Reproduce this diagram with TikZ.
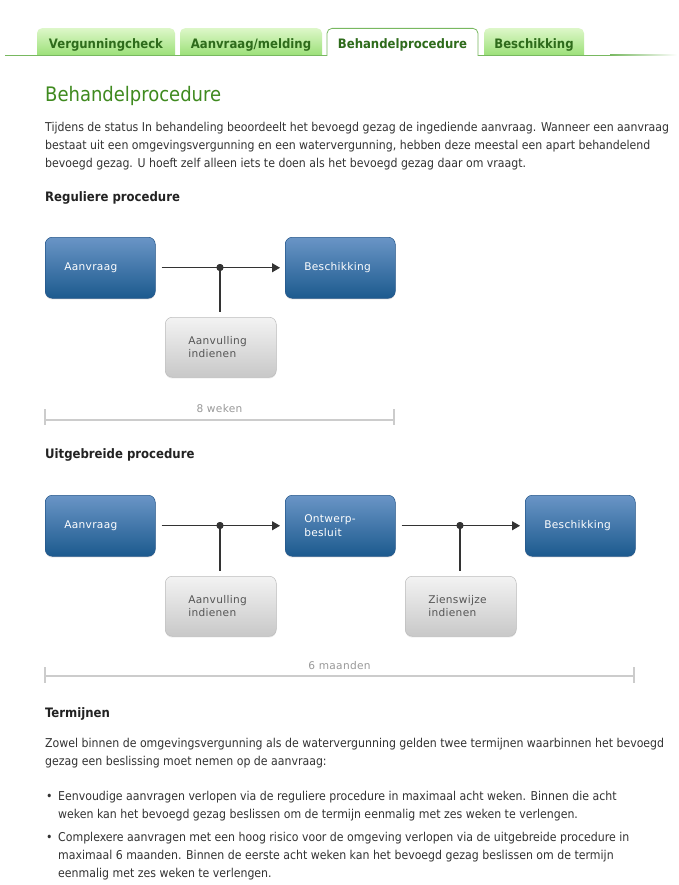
\documentclass[tikz,border=0pt]{standalone}
\usepackage{fontspec}
\setmainfont{DejaVu Sans Condensed}
\newfontfamily\boxfont{DejaVu Sans}[LetterSpace=3.0]
\usetikzlibrary{arrows.meta,shadows}
\definecolor{tabtop}{HTML}{DDF7C8}
\definecolor{tabbot}{HTML}{8EDB68}
\definecolor{tabtext}{HTML}{2E6B1B}
\definecolor{tabline}{HTML}{78B860}
\definecolor{titlegreen}{HTML}{3F8A1F}
\definecolor{bodytext}{HTML}{333333}
\definecolor{headtext}{HTML}{222222}
\definecolor{bluetop}{HTML}{6A95C6}
\definecolor{bluebot}{HTML}{1C5A8E}
\definecolor{bluebord}{HTML}{24568A}
\definecolor{graytop}{HTML}{F3F3F3}
\definecolor{graybot}{HTML}{C8C8C8}
\definecolor{graybord}{HTML}{BDBDBD}
\definecolor{graytext}{HTML}{555555}
\definecolor{timeline}{HTML}{CCCCCC}
\definecolor{timetext}{HTML}{999999}
\definecolor{conn}{HTML}{333333}
\begin{document}
\begin{tikzpicture}[x=1pt,y=-1pt,
  tabbox/.style={anchor=north, rounded corners=5pt, top color=tabtop, bottom color=tabbot,
    draw=none, minimum height=33pt, inner sep=0pt, text=tabtext,
    font=\fontsize{13}{15}\selectfont\bfseries},
  tabactive/.style={anchor=north, rounded corners=5pt, fill=white, draw=tabline, line width=0.8pt,
    minimum height=33pt, inner sep=0pt, text=tabtext,
    font=\fontsize{13}{15}\selectfont\bfseries},
  txt/.style={anchor=west, inner sep=0pt, text height=9pt, text depth=2.6pt,
    text=bodytext, font=\fontsize{12.2}{14}\selectfont},
  head/.style={anchor=west, inner sep=0pt, text height=9.5pt, text depth=2.5pt,
    text=headtext, font=\fontsize{13}{15}\selectfont\bfseries},
  bluebox/.style={anchor=north west, rounded corners=7pt, top color=bluetop, bottom color=bluebot,
    draw=bluebord, line width=0.5pt, minimum width=110pt, minimum height=61pt,
    inner xsep=19pt, text width=72pt, align=left, text=white,
    font=\boxfont\fontsize{10.6}{13.5}\selectfont,
    drop shadow={shadow xshift=0pt, shadow yshift=-1.2pt, opacity=0.25}},
  graybox/.style={anchor=north west, rounded corners=7pt, top color=graytop, bottom color=graybot,
    draw=graybord, line width=0.5pt, minimum width=111pt, minimum height=60pt,
    inner xsep=23pt, text width=65pt, align=left, text=graytext,
    font=\boxfont\fontsize{10.6}{13.5}\selectfont,
    drop shadow={shadow xshift=0pt, shadow yshift=-1.2pt, opacity=0.2}},
  link/.style={draw=conn, line width=1.1pt, shorten <=6pt, shorten >=5pt,
    -{Triangle[length=8pt,width=9pt]}},
  branch/.style={draw=conn, line width=1.1pt, shorten >=5pt},
  junction/.style={circle, fill=conn, inner sep=0pt, minimum size=7pt},
  tl/.style={draw=timeline, line width=2pt},
  tltext/.style={inner sep=0pt, text=timetext, font=\boxfont\fontsize{10.6}{13}\selectfont}
]
\useasboundingbox (0,0) rectangle (678,885);
\fill[white] (0,0) rectangle (678,885);

% tabs
\node[tabbox, minimum width=138pt] (tab1) at (106,28) {Vergunningcheck};
\node[tabbox, minimum width=142pt] (tab2) at (251,28) {Aanvraag/melding};
\node[tabactive, minimum width=151pt] (tab3) at (402.5,28) {Behandelprocedure};
\node[tabbox, minimum width=100pt] (tab4) at (534,28) {Beschikking};
\fill[white] (0,55.6) rectangle (678,64);
\fill[tabline] (5,54.6) rectangle (327,55.8);
\fill[tabline] (478,54.6) rectangle (610,55.8);
\shade[left color=tabline, right color=white] (610,54.6) rectangle (677,55.8);

% title and intro
\node[anchor=west, inner sep=0pt, text=titlegreen, font=\fontsize{20}{24}\selectfont] (title) at (45,96) {Behandelprocedure};
\node[txt] (p1) at (45,128) {Tijdens de status In behandeling beoordeelt het bevoegd gezag de ingediende aanvraag. Wanneer een aanvraag};
\node[txt] (p2) at (45,146) {bestaat uit een omgevingsvergunning en een watervergunning, hebben deze meestal een apart behandelend};
\node[txt] (p3) at (45,164) {bevoegd gezag. U hoeft zelf alleen iets te doen als het bevoegd gezag daar om vraagt.};

% reguliere procedure
\node[head] (h1) at (45,198) {Reguliere procedure};
\node[bluebox] (r1) at (45,237) {Aanvraag};
\node[bluebox] (r2) at (285,237) {Beschikking};
\node[graybox] (r3) at (165,317) {Aanvulling\\indienen};
\node[junction] (rj) at (220,267.5) {};
\draw[link] (r1.east) -- (r2.west);
\draw[branch] (rj.center) -- (r3.north -| rj);
\node[junction] at (rj) {};
\coordinate (rt1) at (45,420);
\coordinate (rt2) at (394,420);
\draw[tl] (rt1) -- (rt2);
\draw[tl] (rt1) ++(0,-11) -- ++(0,16);
\draw[tl] (rt2) ++(0,-11) -- ++(0,16);
\node[tltext] (rtl) at (219.5,409) {8 weken};

% uitgebreide procedure
\node[head] (h2) at (45,455) {Uitgebreide procedure};
\node[bluebox] (u1) at (45,495) {Aanvraag};
\node[bluebox] (u2) at (285,495) {Ontwerp-\\besluit};
\node[bluebox] (u3) at (525,495) {Beschikking};
\node[graybox] (u4) at (165,576) {Aanvulling\\indienen};
\node[graybox] (u5) at (405,576) {Zienswijze\\indienen};
\node[junction] (uj1) at (220,525.5) {};
\node[junction] (uj2) at (460,525.5) {};
\draw[link] (u1.east) -- (u2.west);
\draw[link] (u2.east) -- (u3.west);
\draw[branch] (uj1.center) -- (u4.north -| uj1);
\draw[branch] (uj2.center) -- (u5.north -| uj2);
\node[junction] at (uj1) {};
\node[junction] at (uj2) {};
\coordinate (ut1) at (45,676);
\coordinate (ut2) at (634,676);
\draw[tl] (ut1) -- (ut2);
\draw[tl] (ut1) ++(0,-9) -- ++(0,16);
\draw[tl] (ut2) ++(0,-9) -- ++(0,16);
\node[tltext] (utl) at (339.5,666) {6 maanden};

% termijnen
\node[head] (h3) at (45,714) {Termijnen};
\node[txt] (q1) at (45,744) {Zowel binnen de omgevingsvergunning als de watervergunning gelden twee termijnen waarbinnen het bevoegd};
\node[txt] (q2) at (45,762) {gezag een beslissing moet nemen op de aanvraag:};
\node[txt] (bu1) at (46,797) {•};
\node[txt] (b1a) at (58,797) {Eenvoudige aanvragen verlopen via de reguliere procedure in maximaal acht weken. Binnen die acht};
\node[txt] (b1b) at (58,815) {weken kan het bevoegd gezag beslissen om de termijn eenmalig met zes weken te verlengen.};
\node[txt] (bu2) at (46,838) {•};
\node[txt] (b2a) at (58,838) {Complexere aanvragen met een hoog risico voor de omgeving verlopen via de uitgebreide procedure in};
\node[txt] (b2b) at (58,856) {maximaal 6 maanden. Binnen de eerste acht weken kan het bevoegd gezag beslissen om de termijn};
\node[txt] (b2c) at (58,874) {eenmalig met zes weken te verlengen.};
\end{tikzpicture}
\end{document}
